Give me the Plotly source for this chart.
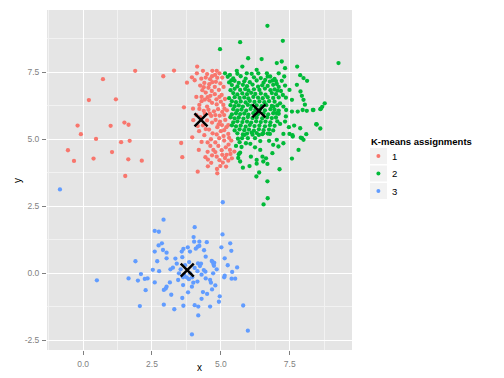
import plotly.graph_objects as go

# ---- data ----
cluster_labels = ["1", "2", "3"]
cluster_colors = ["#F8766D", "#00BA38", "#619CFF"]
legend_title = "K-means assignments"

cluster1_points = [
    (1.89, 7.55), (0.72, 7.24), (2.91, 7.35), (3.30, 7.56), (0.21, 6.46), (1.19, 6.49),
    (-0.20, 5.51), (-0.08, 5.19), (1.00, 5.50), (1.50, 5.62), (1.65, 5.54), (0.47, 5.01),
    (1.38, 4.89), (1.69, 4.94), (-0.55, 4.59), (-0.33, 4.19), (0.38, 4.28), (1.05, 4.52),
    (1.64, 4.25), (2.13, 4.20), (1.53, 3.63), (3.56, 4.86), (3.60, 4.33), (3.66, 6.19),
    (4.14, 7.71), (3.77, 7.11), (3.95, 7.31), (4.13, 7.46), (4.29, 7.26), (4.50, 7.43),
    (4.69, 7.55), (4.85, 7.55), (4.79, 7.40), (4.61, 7.24), (4.69, 7.13), (4.82, 7.14),
    (4.87, 7.29), (4.95, 7.46), (4.38, 6.94), (4.33, 6.83), (4.45, 6.74), (4.11, 6.58),
    (4.30, 6.58), (4.52, 6.57), (4.67, 6.80), (4.93, 6.84), (5.03, 6.65), (4.84, 6.49),
    (4.68, 6.36), (4.30, 6.42), (4.50, 6.22), (3.99, 6.14), (4.22, 6.13), (4.38, 6.06),
    (4.75, 6.04), (5.13, 6.14), (5.22, 6.08), (5.09, 6.28), (4.96, 5.88), (4.65, 5.87),
    (4.11, 5.90), (4.00, 5.71), (4.16, 5.49), (4.35, 5.52), (4.81, 5.72), (4.97, 5.66),
    (5.16, 5.72), (5.04, 5.53), (5.12, 5.34), (4.87, 5.45), (4.21, 5.30), (3.96, 5.07),
    (4.57, 5.36), (5.27, 5.20), (5.10, 5.12), (4.94, 5.04), (4.64, 5.00), (4.80, 4.88),
    (4.91, 4.75), (4.62, 4.75), (4.73, 4.60), (5.03, 4.59), (5.28, 4.80), (5.33, 4.60),
    (5.21, 4.42), (4.52, 4.53), (4.44, 4.33), (4.53, 4.24), (4.85, 4.35), (5.05, 4.42),
    (5.07, 4.13), (5.27, 4.20), (5.40, 4.29), (5.49, 4.54), (4.86, 3.89), (4.53, 3.99),
    (4.16, 3.79), (5.35, 5.82), (5.27, 5.53), (4.87, 3.73), (5.19, 3.98),
    (4.58, 7.05), (4.98, 7.08), (5.05, 7.30), (4.40, 7.10), (4.55, 6.92), (4.78, 6.95),
    (5.10, 6.95), (4.62, 6.62), (4.78, 6.68), (4.95, 6.58), (5.15, 6.50), (4.42, 6.48),
    (4.58, 6.45), (4.85, 6.30), (5.00, 6.40), (4.55, 6.10), (4.90, 6.12), (5.05, 6.02),
    (4.60, 5.95), (4.80, 5.90), (5.12, 5.90), (4.25, 5.82), (4.50, 5.70), (4.68, 5.62),
    (4.92, 5.55), (5.20, 5.45), (4.45, 5.38), (4.70, 5.22), (4.85, 5.18), (5.00, 5.30),
    (4.40, 5.15), (4.52, 4.88), (5.12, 4.95), (5.18, 4.70), (4.80, 4.52), (4.95, 4.22),
    (4.68, 4.40), (5.38, 4.95), (5.30, 5.05), (4.30, 4.90), (4.22, 6.28), (4.42, 5.95),
    (4.25, 7.00), (4.05, 7.20), (4.68, 7.35), (4.35, 7.55), (4.45, 7.30), (4.20, 4.60),
    (4.65, 4.12), (5.35, 4.45), (5.15, 4.30), (4.98, 4.00),
]

cluster2_points = [
    (6.69, 9.23), (5.70, 8.62), (7.25, 8.67), (4.97, 8.36), (5.99, 8.02), (6.48, 7.99),
    (7.03, 7.84), (7.21, 7.90), (7.33, 7.65), (7.77, 7.71), (9.27, 7.84), (7.88, 7.39),
    (8.00, 7.28), (8.13, 7.18), (7.76, 7.03), (7.89, 6.78), (7.94, 6.62), (8.00, 6.47),
    (8.05, 6.29), (8.77, 6.34), (8.68, 6.21), (8.61, 6.12), (8.34, 6.09), (7.97, 6.09),
    (7.79, 6.03), (8.12, 6.06), (8.48, 5.55), (8.61, 5.40), (8.10, 5.19), (7.95, 5.04),
    (8.00, 4.98), (7.61, 5.10), (7.88, 5.41), (7.66, 5.51), (7.47, 5.45), (7.82, 4.60),
    (7.58, 4.28), (7.13, 3.88), (6.69, 3.43), (6.39, 3.76), (6.29, 3.61), (6.70, 2.80),
    (6.55, 2.57), (5.80, 3.94), (6.04, 4.00), (6.30, 4.09), (6.54, 4.17), (6.69, 4.08),
    (6.64, 4.29), (6.51, 4.35), (6.30, 4.23), (6.09, 4.35), (5.70, 4.17), (5.63, 4.30),
    (5.70, 4.50), (5.75, 4.71), (5.68, 4.89), (5.91, 4.85), (6.07, 4.83), (6.24, 4.70),
    (6.43, 4.60), (6.87, 4.48), (6.90, 4.79), (7.09, 4.73), (7.27, 4.85), (7.03, 4.98),
    (6.75, 4.94), (6.43, 4.93), (6.24, 5.04), (5.98, 5.04), (5.77, 5.04), (5.85, 5.16),
    (6.12, 5.25), (6.38, 5.16), (6.78, 5.20), (6.54, 5.22), (7.27, 5.20), (7.49, 5.20),
    (7.15, 5.57), (7.36, 5.85), (7.33, 5.66), (7.58, 6.03), (5.15, 7.46), (5.33, 7.40),
    (5.38, 7.19), (5.58, 7.55), (5.60, 7.44), (5.78, 7.71), (5.94, 7.46), (6.12, 7.44),
    (6.30, 7.59), (6.36, 7.46), (6.67, 7.46), (6.79, 7.34), (6.61, 7.21), (6.88, 7.19),
    (7.10, 7.46), (7.30, 7.34), (7.21, 7.18), (7.03, 7.06), (7.33, 7.00), (7.18, 6.80),
    (7.49, 6.84), (7.25, 6.65), (7.36, 6.55), (7.58, 6.47), (7.15, 6.34), (7.27, 6.22),
    (7.37, 6.09), (7.10, 6.07), (6.91, 6.22), (7.03, 5.97), (8.36, 6.09), (8.63, 6.14),
    (8.46, 5.56), (7.90, 5.06), (7.60, 5.15), (5.65, 4.44), (5.55, 4.75), (5.62, 5.02),
    # dense core
    (5.25, 7.33), (5.45, 7.27), (5.72, 7.35), (5.90, 7.26), (6.20, 7.31), (6.45, 7.28),
    (6.70, 7.34), (6.95, 7.25), (5.30, 7.12), (5.50, 7.18), (5.65, 7.10), (5.85, 7.16),
    (6.05, 7.13), (6.30, 7.19), (6.55, 7.11), (6.78, 7.15), (7.00, 7.17), (5.40, 7.02),
    (5.60, 6.97), (5.80, 7.03), (5.95, 6.98), (6.15, 7.04), (6.35, 6.96), (6.50, 7.01),
    (6.70, 6.99), (6.90, 7.03), (7.10, 6.95), (5.35, 6.83), (5.50, 6.88), (5.70, 6.84),
    (5.88, 6.87), (6.00, 6.82), (6.20, 6.86), (6.40, 6.84), (6.60, 6.89), (6.80, 6.83),
    (6.95, 6.86), (7.05, 6.81), (5.45, 6.72), (5.60, 6.67), (5.78, 6.71), (5.95, 6.68),
    (6.10, 6.73), (6.25, 6.69), (6.45, 6.71), (6.62, 6.66), (6.85, 6.72), (7.00, 6.68),
    (5.30, 6.53), (5.50, 6.57), (5.68, 6.54), (5.85, 6.56), (6.00, 6.52), (6.18, 6.58),
    (6.35, 6.55), (6.52, 6.53), (6.70, 6.57), (6.90, 6.54), (7.10, 6.56), (5.40, 6.42),
    (5.55, 6.38), (5.72, 6.41), (5.90, 6.37), (6.05, 6.43), (6.22, 6.39), (6.40, 6.41),
    (6.58, 6.38), (6.75, 6.42), (6.95, 6.40), (5.35, 6.27), (5.50, 6.23), (5.65, 6.26),
    (5.80, 6.22), (5.98, 6.28), (6.12, 6.24), (6.30, 6.26), (6.48, 6.23), (6.65, 6.27),
    (6.85, 6.24), (7.05, 6.26), (5.45, 6.12), (5.60, 6.08), (5.75, 6.11), (5.92, 6.07),
    (6.08, 6.13), (6.25, 6.09), (6.42, 6.11), (6.60, 6.08), (6.80, 6.12), (6.95, 6.10),
    (5.40, 5.93), (5.55, 5.97), (5.70, 5.94), (5.85, 5.96), (6.00, 5.92), (6.18, 5.97),
    (6.35, 5.94), (6.55, 5.96), (6.72, 5.93), (6.90, 5.97), (7.10, 5.95), (5.35, 5.82),
    (5.50, 5.78), (5.65, 5.81), (5.82, 5.77), (5.98, 5.83), (6.15, 5.79), (6.30, 5.81),
    (6.50, 5.78), (6.68, 5.82), (6.85, 5.79), (7.00, 5.81), (5.45, 5.63), (5.60, 5.67),
    (5.78, 5.64), (5.95, 5.66), (6.10, 5.62), (6.28, 5.67), (6.45, 5.64), (6.62, 5.66),
    (6.80, 5.63), (7.05, 5.67), (5.40, 5.52), (5.55, 5.48), (5.72, 5.51), (5.90, 5.47),
    (6.05, 5.53), (6.22, 5.49), (6.40, 5.51), (6.60, 5.48), (6.78, 5.52), (6.95, 5.50),
    (5.50, 5.33), (5.68, 5.37), (5.85, 5.34), (6.02, 5.36), (6.20, 5.32), (6.38, 5.37),
    (6.55, 5.34), (6.75, 5.36), (6.90, 5.33), (5.60, 5.22), (5.80, 5.18), (5.95, 5.21),
    (6.15, 5.17), (6.30, 5.23), (6.50, 5.19), (6.70, 5.21),
]

cluster3_points = [
    (5.07, 2.65), (2.92, 2.00), (4.05, 1.72), (2.60, 1.58), (2.75, 1.55), (4.01, 1.35),
    (4.03, 1.18), (4.22, 1.18), (4.49, 1.16), (5.06, 1.45), (5.34, 1.12), (2.86, 1.12),
    (2.74, 1.04), (3.80, 0.97), (3.64, 0.91), (4.09, 0.92), (4.16, 0.99), (4.22, 1.02),
    (4.39, 0.86), (5.02, 0.97), (5.38, 0.84), (2.60, 0.81), (2.90, 0.87), (3.03, 0.77),
    (3.58, 0.81), (3.88, 0.81), (3.60, 0.60), (3.03, 0.56), (2.69, 0.45), (1.90, 0.45),
    (3.40, 0.36), (3.26, 0.21), (3.17, 0.15), (2.53, 0.13), (2.76, 0.08), (3.54, 0.15),
    (3.48, 0.00), (3.85, 0.42), (4.17, 0.37), (4.24, 0.27), (4.15, 0.08), (4.28, 0.36),
    (4.38, 0.12), (4.44, 0.06), (4.70, 0.43), (4.73, 0.35), (4.75, 0.28), (5.14, 0.56),
    (4.72, 0.00), (5.59, 0.22), (5.41, 0.05), (2.10, -0.03), (1.65, -0.19), (1.99, -0.27),
    (2.24, -0.21), (2.34, -0.19), (2.60, -0.34), (3.15, -0.34), (3.63, -0.15), (3.76, -0.15),
    (3.96, -0.15), (3.84, -0.22), (4.15, -0.31), (4.45, -0.19), (4.61, -0.25), (4.64, -0.35),
    (5.12, -0.15), (5.14, -0.09), (5.39, -0.20), (5.52, -0.20), (3.63, -0.44), (3.95, -0.50),
    (3.81, -0.71), (4.68, -0.60), (4.35, -0.70), (4.50, -0.77), (3.03, -0.50), (3.00, -0.57),
    (2.93, -0.62), (2.27, -0.63), (3.60, -0.92), (4.96, -0.86), (4.93, -1.06), (5.81, -1.20),
    (2.06, -1.22), (2.93, -1.17), (3.31, -1.34), (3.64, -1.21), (4.05, -1.19), (4.18, -1.24),
    (4.61, -1.24), (4.18, -1.57), (3.95, -2.28), (5.98, -2.14), (0.50, -0.26), (-0.84, 3.13),
    (4.67, 0.46), (4.76, 0.39), (3.88, 0.00), (3.67, -0.06), (4.05, 0.20), (3.70, 0.30),
    (4.30, -0.05), (4.00, -0.35), (3.45, -0.25), (4.85, 0.15), (3.35, 0.55), (4.45, 0.62),
    (4.80, -0.45), (3.20, -0.80), (4.30, -0.95), (5.25, 0.30),
]

center_x = [4.28, 6.38, 3.78]
center_y = [5.72, 6.06, 0.12]

x_ticks = [0.0, 2.5, 5.0, 7.5]
x_tick_labels = ["0.0", "2.5", "5.0", "7.5"]
y_ticks = [-2.5, 0.0, 2.5, 5.0, 7.5]
y_tick_labels = ["-2.5", "0.0", "2.5", "5.0", "7.5"]

# ---- layout geometry (pixels) ----
W, H = 504, 378
ML, MR, MT, MB = 47, 152, 10, 28
PW, PH = W - ML - MR, H - MT - MB


def px_x(p):  # pixel -> paper x
    return (p - ML) / PW


def px_y(p):  # pixel -> paper y
    return (H - MB - p) / PH


FONT = "Liberation Sans, Arial, sans-serif"

# ---- figure ----
fig = go.Figure()
for pts, lab, col in zip([cluster1_points, cluster2_points, cluster3_points],
                         cluster_labels, cluster_colors):
    xs = [p[0] for p in pts]
    ys = [p[1] for p in pts]
    fig.add_trace(go.Scatter(x=xs, y=ys, mode="markers", name=lab, showlegend=False,
                             marker=dict(color=col, size=4.3, line=dict(width=0))))

fig.add_trace(go.Scatter(x=center_x, y=center_y, mode="markers", showlegend=False,
                         marker=dict(symbol="x-thin", size=13, color="black",
                                     line=dict(width=2.5, color="black"))))

shapes = []
annotations = []
# legend (ggplot-style key boxes)
annotations.append(dict(text="<b>" + legend_title + "</b>", xref="paper", yref="paper",
                        x=px_x(368.5), y=px_y(141.5), xanchor="left", yanchor="middle",
                        showarrow=False, font=dict(size=9.5, color="black", family=FONT)))
key_centers = [156.0, 173.5, 191.0]
for lab, col, cy in zip(cluster_labels, cluster_colors, key_centers):
    shapes.append(dict(type="rect", xref="paper", yref="paper", layer="below",
                       x0=px_x(370), x1=px_x(387), y0=px_y(cy - 8), y1=px_y(cy + 8),
                       fillcolor="#F2F2F2", line=dict(width=0)))
    shapes.append(dict(type="circle", xref="paper", yref="paper",
                       x0=px_x(378.4 - 2.0), x1=px_x(378.4 + 2.0),
                       y0=px_y(cy - 2.0), y1=px_y(cy + 2.0),
                       fillcolor=col, line=dict(width=0)))
    annotations.append(dict(text=lab, xref="paper", yref="paper",
                            x=px_x(389.5), y=px_y(cy), xanchor="left", yanchor="middle",
                            showarrow=False, font=dict(size=9.5, color="black", family=FONT)))
# axis titles
annotations.append(dict(text="x", xref="paper", yref="paper", x=0.5, y=px_y(367.5),
                        xanchor="center", yanchor="middle", showarrow=False,
                        font=dict(size=10, color="black", family=FONT)))
annotations.append(dict(text="y", xref="paper", yref="paper", x=px_x(17.5), y=px_y(180.5),
                        xanchor="center", yanchor="middle", showarrow=False, textangle=-90,
                        font=dict(size=10, color="black", family=FONT)))

axis_common = dict(
    showgrid=True, gridcolor="white", gridwidth=1.2, zeroline=False,
    ticks="outside", ticklen=4, tickcolor="#7F7F7F", tickwidth=1,
    tickfont=dict(size=8.5, color="#7F7F7F", family=FONT),
    showline=False, automargin=False,
)
fig.update_layout(
    width=W, height=H,
    margin=dict(l=ML, r=MR, t=MT, b=MB),
    paper_bgcolor="white", plot_bgcolor="#E5E5E5",
    font=dict(family=FONT, color="black"),
    showlegend=False,
    xaxis=dict(range=[-1.31, 9.76], tickvals=x_ticks, ticktext=x_tick_labels,
               ticklabelstandoff=2,
               minor=dict(tick0=0, dtick=1.25, showgrid=True, gridcolor="#F2F2F2",
                          gridwidth=0.6, ticks=""),
               **axis_common),
    yaxis=dict(range=[-2.86, 9.82], tickvals=y_ticks, ticktext=y_tick_labels,
               ticklabelstandoff=1,
               minor=dict(tick0=0, dtick=1.25, showgrid=True, gridcolor="#F2F2F2",
                          gridwidth=0.6, ticks=""),
               **axis_common),
    shapes=shapes,
    annotations=annotations,
)
fig.write_html("out.html", config={"displayModeBar": False},
               post_script="document.body.style.margin='0';")
